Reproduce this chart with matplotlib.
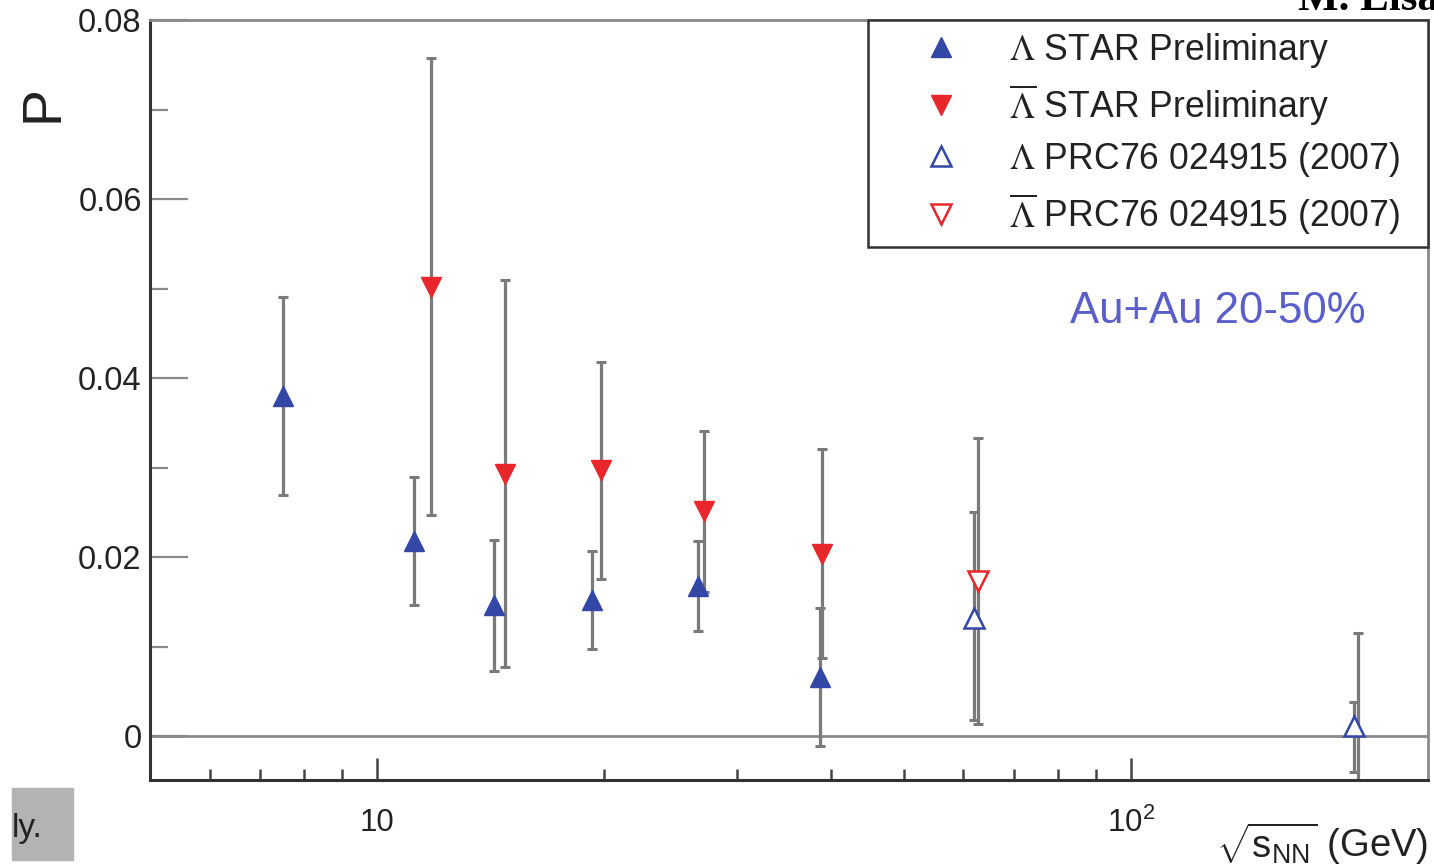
import matplotlib
matplotlib.use('Agg')
import matplotlib.pyplot as plt
from matplotlib.lines import Line2D
from matplotlib.ticker import FixedLocator, FixedFormatter, NullFormatter
from matplotlib.font_manager import FontProperties
import matplotlib.patches as mpatches

plt.rcParams['font.family'] = ['Liberation Sans', 'DejaVu Sans']
plt.rcParams['mathtext.fontset'] = 'custom'
plt.rcParams['mathtext.rm'] = 'Liberation Sans'
plt.rcParams['mathtext.it'] = 'Liberation Sans:italic'
plt.rcParams['mathtext.bf'] = 'Liberation Sans:bold'

# ---------------- data ----------------
lam_star_x = [7.5, 11.2, 14.3, 19.3, 26.7, 38.7]
lam_star_p = [0.0380, 0.0218, 0.0146, 0.0152, 0.0168, 0.0066]
lam_star_err = [0.0111, 0.0071, 0.0073, 0.0055, 0.0050, 0.0077]

alam_star_x = [11.8, 14.8, 19.8, 27.2, 38.9]
alam_star_p = [0.0502, 0.0293, 0.0297, 0.0251, 0.0204]
alam_star_err = [0.0255, 0.0216, 0.0121, 0.0090, 0.0117]

lam_prc_x = [62.0, 198.0]
lam_prc_p = [0.0132, 0.0011]
lam_prc_err_lo = [0.0114, 0.0051]
lam_prc_err_hi = [0.0118, 0.0027]

alam_prc_x = [62.7, 200.0]
alam_prc_p = [0.0173, -0.0120]
alam_prc_err = [0.0160, 0.0235]

y_ticks = [0.0, 0.02, 0.04, 0.06, 0.08]
y_ticklabels = ['0', '0.02', '0.04', '0.06', '0.08']
x_ticks = [10, 100]
x_ticklabels = ['10', r'$10^2$']
x_minor = [6, 7, 8, 9, 20, 30, 40, 50, 60, 70, 80, 90, 200]

legend_labels = [r'$\Lambda$ STAR Preliminary',
                 r'$\overline{\Lambda}$ STAR Preliminary',
                 r'$\Lambda$ PRC76 024915 (2007)',
                 r'$\overline{\Lambda}$ PRC76 024915 (2007)']

BLUE = '#3347a6'
RED = '#e8262c'
ERRC = '#7a7a7a'

fig = plt.figure(figsize=(14.34, 8.68), dpi=100)
ax = fig.add_axes([150/1434, 88/868, 1278/1434, 760/868])

ax.set_xscale('log')
ax.set_xlim(5.0, 248)
ax.set_ylim(-0.0049, 0.08)

ax.axhline(0, color='#8a8a8a', lw=2.0, zorder=1)

ekw = dict(fmt='none', ecolor=ERRC, elinewidth=2.3, capsize=3.5, capthick=2.2, zorder=2)
ax.errorbar(lam_star_x, lam_star_p, yerr=lam_star_err, **ekw)
ax.errorbar(alam_star_x, alam_star_p, yerr=alam_star_err, **ekw)
ax.errorbar(lam_prc_x, lam_prc_p, yerr=[lam_prc_err_lo, lam_prc_err_hi], **ekw)
ax.errorbar(alam_prc_x, alam_prc_p, yerr=alam_prc_err, **ekw)

ms = 14
ax.plot(lam_star_x, lam_star_p, ls='none', marker='^', ms=ms, color=BLUE, mec=BLUE, zorder=4)
ax.plot(alam_star_x, alam_star_p, ls='none', marker='v', ms=ms, color=RED, mec=RED, zorder=4)
ax.plot(lam_prc_x, lam_prc_p, ls='none', marker='^', ms=ms, mfc='white', mec=BLUE, mew=1.8, zorder=4)
ax.plot(alam_prc_x, alam_prc_p, ls='none', marker='v', ms=ms, mfc='white', mec=RED, mew=1.8, zorder=4)

# spines
for s in ['left', 'bottom']:
    ax.spines[s].set_color('#333333')
    ax.spines[s].set_linewidth(2.2)
for s in ['top', 'right']:
    ax.spines[s].set_color('#8a8a8a')
    ax.spines[s].set_linewidth(2.0)

ax.yaxis.set_major_locator(FixedLocator(y_ticks))
ax.yaxis.set_major_formatter(FixedFormatter(y_ticklabels))
ax.yaxis.set_minor_locator(FixedLocator([0.01, 0.03, 0.05, 0.07]))
ax.xaxis.set_major_locator(FixedLocator(x_ticks))
ax.xaxis.set_major_formatter(FixedFormatter(x_ticklabels))
ax.xaxis.set_minor_locator(FixedLocator(x_minor))
ax.xaxis.set_minor_formatter(NullFormatter())

ax.tick_params(axis='y', which='major', direction='in', length=27, width=1.6,
               color='#8a8a8a', left=True, right=False, labelsize=23.5, pad=6,
               labelcolor='#222222')
ax.tick_params(axis='y', which='minor', direction='in', length=13, width=1.6,
               color='#8a8a8a', left=True, right=False)
ax.tick_params(axis='x', which='major', direction='in', length=16, width=1.8,
               color='#444444', top=False, labelsize=22.5, pad=20, labelcolor='#222222')
ax.tick_params(axis='x', which='minor', direction='in', length=8, width=1.8,
               color='#444444', top=False)

ax.set_ylabel('P', fontsize=40, color='#222222')
ax.yaxis.set_label_coords(-0.063, 0.89)

ax.text(1.0, -0.084, r'$\sqrt{\mathrm{s}_{\mathrm{NN}}}$ (GeV)', transform=ax.transAxes,
        ha='right', va='center', fontsize=27.5, color='#222222')

ax.text(0.72, 0.616, 'Au+Au 20-50%', transform=ax.transAxes, ha='left',
        va='center', fontsize=31.5, color='#5a5ec8')

handles = [
    Line2D([], [], ls='none', marker='^', ms=ms, color=BLUE),
    Line2D([], [], ls='none', marker='v', ms=ms, color=RED),
    Line2D([], [], ls='none', marker='^', ms=ms, mfc='white', mec=BLUE, mew=1.8),
    Line2D([], [], ls='none', marker='v', ms=ms, mfc='white', mec=RED, mew=1.8),
]
prop = FontProperties(family='Liberation Sans', size=25.7, math_fontfamily='stix')
x0 = (868 - 150) / 1278
leg = ax.legend(handles, legend_labels, loc='upper right',
                bbox_to_anchor=(x0, 0.0, 1.0 - x0, 1.0), mode='expand',
                borderaxespad=0.0, prop=prop, frameon=True, fancybox=False,
                edgecolor='#333333', framealpha=1.0, borderpad=0.3,
                labelspacing=0.34, handlelength=3.5, handletextpad=0.16)
leg.get_frame().set_linewidth(1.8)
for t in leg.get_texts():
    t.set_color('#222222')

# slide artifacts
fig.patches.append(mpatches.Rectangle((12/1434, 8/868), 61/1434, 72/868,
                                      transform=fig.transFigure, color='#b3b3b3', zorder=0))
fig.text(12/1434, 40/868, 'ly.', fontsize=24, va='center', ha='left', color='#222222')
fig.text(1298/1434, 1 - 10/868, 'M. Lisa', fontsize=31, fontweight='bold',
         family='Liberation Serif', va='baseline', ha='left', color='black')

fig.savefig('out.png', dpi=100)
